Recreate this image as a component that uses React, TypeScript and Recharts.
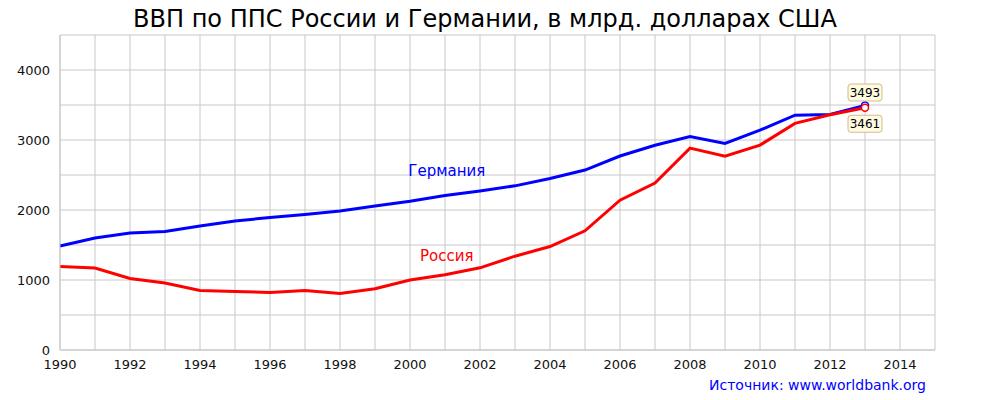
import { LineChart, Line, XAxis, YAxis, CartesianGrid, ReferenceDot } from "recharts";

const years = [
  1990, 1991, 1992, 1993, 1994, 1995, 1996, 1997, 1998, 1999, 2000, 2001,
  2002, 2003, 2004, 2005, 2006, 2007, 2008, 2009, 2010, 2011, 2012, 2013,
];
const germany = [
  1486, 1600, 1671, 1693, 1771, 1843, 1893, 1936, 1986, 2057, 2125, 2206,
  2271, 2345, 2451, 2571, 2771, 2925, 3048, 2951, 3140, 3354, 3366, 3493,
];
const russia = [
  1193, 1171, 1021, 957, 850, 836, 821, 850, 809, 875, 1000, 1076,
  1174, 1340, 1478, 1703, 2140, 2385, 2884, 2768, 2927, 3237, 3360, 3461,
];
const xTicks = [
  1990, 1991, 1992, 1993, 1994, 1995, 1996, 1997, 1998, 1999, 2000, 2001, 2002,
  2003, 2004, 2005, 2006, 2007, 2008, 2009, 2010, 2011, 2012, 2013, 2014, 2015,
];
const yTicks = [0, 500, 1000, 1500, 2000, 2500, 3000, 3500, 4000, 4500];

const data = years.map((year, i) => ({
  year,
  germany: germany[i],
  russia: russia[i],
}));

const FONT = "DejaVu Sans";
const GRID = "#c8c8c8";

function endDot(color: string, above: boolean) {
  return (props: any) => {
    const { cx, cy, index, value } = props;
    if (index !== years.length - 1) return <g key={`d-${index}`} />;
    const by = above ? cy - 21.5 : cy + 7.5;
    return (
      <g key={`d-${index}`}>
        <circle cx={cx} cy={cy} r={3.5} fill="#fff" stroke={color} strokeWidth={1.5} />
        <rect x={cx - 17} y={by} width={34} height={17} rx={3} fill="#fffbe3" stroke="#d4b98c" strokeWidth={1} />
        <text x={cx} y={by + 13} textAnchor="middle" fontFamily={FONT} fontSize={12} fill="#000">
          {value}
        </text>
      </g>
    );
  };
}

const seriesLabel = (text: string, color: string) => (props: any) => {
  const { viewBox } = props;
  return (
    <text x={viewBox.x} y={viewBox.y} textAnchor="middle" dominantBaseline="central" fontFamily={FONT} fontSize={15} fill={color}>
      {text}
    </text>
  );
};

export default function App() {
  return (
    <div style={{ position: "absolute", left: 0, top: 0, width: 1000, height: 400, background: "#fff" }}>
      <LineChart width={1000} height={400} data={data} margin={{ top: 35, right: 65, left: 0, bottom: 20 }}>
        <text x={485} y={27} textAnchor="middle" fontFamily={FONT} fontSize={24} fill="#000">
          ВВП по ППС России и Германии, в млрд. долларах США
        </text>
        <text x={926} y={390} textAnchor="end" fontFamily={FONT} fontSize={14} fill="#0000ff">
          Источник: www.worldbank.org
        </text>
        <CartesianGrid stroke={GRID} strokeWidth={1} />
        <XAxis
          dataKey="year"
          type="number"
          domain={[1990, 2015]}
          ticks={xTicks}
          interval={0}
          tickFormatter={(v: number) => (v % 2 === 0 ? String(v) : "")}
          tickLine={false}
          axisLine={{ stroke: GRID }}
          tickSize={6}
          tickMargin={4}
          height={30}
          tick={{ fontFamily: FONT, fontSize: 13, fill: "#111" }}
        />
        <YAxis
          type="number"
          domain={[0, 4500]}
          ticks={yTicks}
          interval={0}
          tickFormatter={(v: number) => (v % 1000 === 0 ? String(v) : "")}
          tickLine={false}
          axisLine={{ stroke: GRID }}
          tickSize={8}
          tickMargin={2}
          width={60}
          tick={{ fontFamily: FONT, fontSize: 13, fill: "#111" }}
        />
        <Line
          dataKey="germany"
          stroke="#0000ff"
          strokeWidth={3}
          dot={endDot("#0000ff", true)}
          activeDot={false}
          isAnimationActive={false}
        />
        <Line
          dataKey="russia"
          stroke="#ff0000"
          strokeWidth={3}
          dot={endDot("#ff0000", false)}
          activeDot={false}
          isAnimationActive={false}
        />
        <ReferenceDot x={2001.05} y={2560} r={0} stroke="none" fill="none" label={seriesLabel("Германия", "#0000ff")} />
        <ReferenceDot x={2001.05} y={1350} r={0} stroke="none" fill="none" label={seriesLabel("Россия", "#ff0000")} />
      </LineChart>
    </div>
  );
}
